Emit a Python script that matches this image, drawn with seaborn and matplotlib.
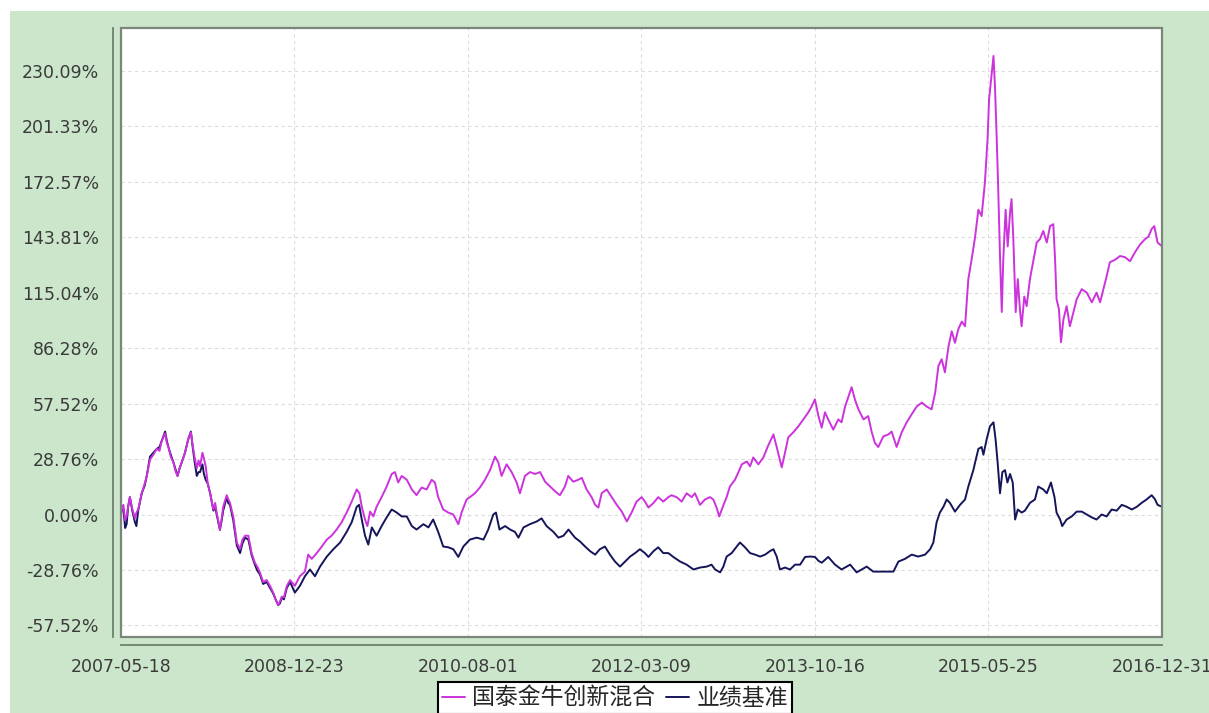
import matplotlib
matplotlib.use('Agg')
import matplotlib.pyplot as plt
from matplotlib.patches import Rectangle
import pandas as pd
import seaborn as sns

START = '2007-05-18'
END = '2016-12-31'

# cumulative return (%) of the fund, days counted from START
fund_days = [0, 2, 8, 14, 19, 24, 30, 38, 47, 52, 58, 70, 80, 87, 98, 109, 121, 130, 137, 149,
             155, 160, 168, 177, 185, 191, 198, 205, 216, 227, 236, 242, 248, 256, 262, 267, 275, 280, 286, 293,
             301, 312, 318, 323, 334, 340, 345, 357, 362, 368, 379, 391, 402, 410, 419, 430, 441, 452, 460, 469,
             480, 492, 503, 514, 522, 531, 537, 543, 550, 560, 571, 587, 604, 621, 632, 644, 661, 678, 695, 711,
             728, 745, 762, 779, 796, 805, 813, 824, 832, 841, 852, 863, 880, 897, 914, 925, 936, 948, 965, 982,
             998, 1015, 1032, 1049, 1060, 1071, 1088, 1105, 1122, 1139, 1150, 1167, 1178, 1195, 1212, 1229, 1246, 1263, 1274, 1285,
             1302, 1319, 1336, 1347, 1364, 1381, 1398, 1415, 1432, 1449, 1466, 1482, 1499, 1510, 1527, 1544, 1556, 1572, 1589, 1601,
             1612, 1623, 1640, 1657, 1674, 1691, 1708, 1724, 1741, 1758, 1769, 1781, 1798, 1814, 1831, 1848, 1859, 1876, 1893, 1910,
             1927, 1938, 1955, 1972, 1989, 2000, 2011, 2020, 2032, 2045, 2056, 2073, 2085, 2096, 2113, 2124, 2135, 2152, 2169, 2186,
             2203, 2214, 2231, 2242, 2253, 2270, 2287, 2304, 2321, 2332, 2343, 2355, 2366, 2377, 2388, 2405, 2422, 2433, 2445, 2456,
             2467, 2478, 2490, 2507, 2523, 2535, 2546, 2557, 2574, 2591, 2602, 2619, 2636, 2653, 2670, 2687, 2704, 2720, 2737, 2749,
             2760, 2771, 2782, 2794, 2805, 2816, 2827, 2839, 2850, 2861, 2872, 2884, 2895, 2906, 2917, 2926, 2931, 2938, 2946, 2951,
             2957, 2962, 2968, 2974, 2979, 2987, 2994, 3002, 3007, 3013, 3021, 3028, 3036, 3041, 3050, 3058, 3069, 3081, 3092, 3103,
             3114, 3126, 3137, 3148, 3154, 3159, 3167, 3174, 3182, 3193, 3204, 3216, 3227, 3244, 3261, 3278, 3294, 3306, 3317, 3328,
             3339, 3356, 3373, 3390, 3407, 3424, 3441, 3458, 3469, 3480, 3489, 3500, 3515]
fund_values = [0, 2.6, 5, -3, -1, 4, 9, 3, -2, 1, 2.6, 11, 16, 20, 28.5, 31, 34, 33, 38, 42,
               37, 35, 30, 27, 22, 20, 24, 27, 32, 39, 42.6, 36, 30, 24, 28, 25, 32, 29, 25, 16,
               11, 2.6, 6, 1, -7.8, -2, 4, 10, 8, 6, -1, -14.5, -18, -13, -11, -11, -20, -25, -27, -30,
               -35, -34, -37, -40.5, -44, -47, -45, -42.6, -43, -37, -34, -37, -32, -29.6, -20.8, -23, -20, -16.6, -13, -11,
               -7.8, -4, 1, 6.7, 13, 11, 4, -2.6, -6, 1.5, -1, 4, 9, 14.5, 21, 22, 16.6, 20, 18, 13,
               10, 14, 13, 18, 16.6, 9, 2.6, 1, 0, -5, 1, 7.8, 9, 11, 14, 18, 23, 30, 27, 20,
               26, 22, 16.6, 11, 20, 22, 21, 22, 17, 14.5, 12, 10, 14.5, 20, 17, 18, 19, 13, 9, 5,
               3.6, 11, 13, 9, 5, 1.5, -3.6, 1, 6.7, 9, 6.7, 3.6, 6, 9, 6.7, 9, 10, 9, 6.7, 11,
               9, 11, 5, 7.8, 9, 7.8, 3.6, -1, 4, 9, 14.5, 18, 22, 26, 27.5, 25, 29.6, 26, 29.6, 36,
               41.5, 35, 24.4, 32, 40, 42.6, 45.7, 49.3, 53, 56, 59.7, 51, 45, 53, 49.3, 44, 49.3, 47.8, 56, 61,
               66, 59.7, 54.5, 49.3, 51, 42.6, 37, 35, 40.5, 41.5, 43, 35, 42.6, 47.8, 52, 56, 58, 56, 54.5, 63,
               77, 80.5, 73.7, 87, 95, 89, 96, 100, 97.6, 122, 132, 144, 158, 154.7, 172, 194.7, 215, 225.8, 237.7, 222,
               194.7, 168.7, 134, 105, 132, 158, 139, 156.8, 163.5, 142.8, 104.9, 122, 105, 97.6, 113, 108, 122, 132, 141, 142.8,
               147, 141, 149.5, 150.5, 132, 111.6, 106.4, 89.3, 101, 108, 97.6, 105, 111.6, 116.8, 115, 110, 115, 110, 116.8, 123.5,
               130.8, 132, 134, 133.4, 131.3, 136, 140, 142.8, 144, 148, 149.5, 141, 139]

# cumulative return (%) of the benchmark
bench_days = [0, 2, 8, 14, 19, 24, 30, 38, 47, 52, 58, 70, 80, 87, 98, 109, 121, 130, 137, 149,
              155, 160, 168, 177, 185, 191, 198, 205, 216, 227, 236, 242, 248, 256, 262, 267, 275, 280, 286, 293,
              301, 312, 318, 323, 334, 340, 345, 357, 362, 368, 379, 391, 402, 410, 419, 430, 441, 452, 460, 469,
              480, 492, 503, 514, 522, 531, 537, 543, 550, 560, 571, 587, 604, 621, 638, 655, 672, 695, 717, 740,
              762, 779, 796, 804, 813, 824, 835, 847, 863, 880, 897, 914, 931, 948, 965, 982, 998, 1021, 1038, 1054,
              1071, 1088, 1105, 1122, 1139, 1156, 1178, 1201, 1224, 1240, 1257, 1266, 1278, 1297, 1314, 1330, 1342, 1359, 1381, 1404,
              1420, 1437, 1460, 1477, 1494, 1511, 1533, 1550, 1567, 1584, 1601, 1617, 1634, 1651, 1668, 1685, 1702, 1719, 1736, 1752,
              1769, 1781, 1798, 1814, 1831, 1848, 1865, 1888, 1910, 1933, 1955, 1978, 1994, 2006, 2023, 2034, 2045, 2062, 2079, 2090,
              2107, 2124, 2141, 2158, 2175, 2191, 2203, 2214, 2225, 2242, 2259, 2276, 2293, 2310, 2327, 2343, 2355, 2366, 2388, 2411,
              2433, 2462, 2484, 2518, 2540, 2574, 2608, 2625, 2647, 2670, 2692, 2715, 2732, 2743, 2754, 2765, 2777, 2788, 2799, 2816,
              2833, 2850, 2861, 2878, 2884, 2895, 2906, 2912, 2923, 2934, 2946, 2953, 2960, 2968, 2976, 2985, 2993, 3002, 3011, 3019,
              3028, 3041, 3052, 3069, 3086, 3097, 3114, 3126, 3140, 3152, 3159, 3171, 3178, 3193, 3210, 3227, 3244, 3261, 3278, 3294,
              3311, 3328, 3345, 3362, 3379, 3396, 3413, 3430, 3446, 3463, 3480, 3491, 3500, 3515]
bench_values = [0, 2.6, 3, -7, -5, 4, 9, 2, -4, -6, 2, 11, 15, 20, 30, 32, 34, 35, 38, 43,
                38, 35, 31, 27, 23, 20, 24, 27, 32, 39, 43, 35, 28, 20, 22, 22, 26, 21, 18, 16,
                11, 2, 4, 0, -8, -3, 2, 9, 6, 5, -3, -16, -20, -15, -12, -13, -21, -26, -29, -31,
                -36, -35, -38, -41, -44, -47, -46, -43, -44, -38, -35, -40.5, -37, -32, -28.5, -32, -27, -21.8, -18, -14.5,
                -9, -4, 4, 5, -2.6, -11, -15.6, -6.7, -11, -6, -1.5, 2.6, 1, -1, -1, -6, -7.8, -5, -6.7, -2.6,
                -9, -16.6, -17, -18, -22, -16.6, -13, -12, -13, -7.8, 0, 1, -7.8, -6, -7.8, -9, -12, -6.7, -5, -3.6,
                -2, -6, -9, -12, -11, -7.8, -12, -14, -16.6, -19, -20.8, -18, -16.6, -20.8, -24.4, -27, -24.4, -21.8, -20, -18,
                -20, -22, -19, -17, -20, -20, -22, -24.4, -26, -28.5, -27.5, -27, -26, -28.5, -30, -27, -21.8, -20, -16.6, -14.5,
                -17, -20, -20.8, -21.8, -20.8, -19, -18, -21.8, -28.5, -27.5, -28.5, -26, -26, -22, -21.8, -22, -24, -25, -22, -26,
                -28.5, -26, -30, -27, -29.6, -29.6, -29.6, -24.4, -23, -20.8, -21.8, -20.8, -18, -14.5, -4, 1, 4, 7.8, 6, 1.5,
                5, 7.8, 14.5, 23, 27, 34, 35, 31, 39, 45.7, 47.8, 39, 27, 11, 22, 23, 16.6, 21, 16.6, -2.6,
                2.6, 1, 2, 6, 7.8, 14.5, 13, 11, 16.6, 9, 1, -2.6, -6, -2.6, -1, 1.5, 1.5, 0, -1.5, -2.6,
                0, -1, 2.6, 2, 5, 4, 2.6, 4, 6, 7.8, 10, 8, 5, 4]

y_ticks = [-57.52, -28.76, 0.00, 28.76, 57.52, 86.28, 115.04, 143.81, 172.57, 201.33, 230.09]
x_tick_labels = ['2007-05-18', '2008-12-23', '2010-08-01', '2012-03-09',
                 '2013-10-16', '2015-05-25', '2016-12-31']
series_names = ['国泰金牛创新混合', '业绩基准']
colors = ['#CC33DD', '#15155A']

start = pd.Timestamp(START)
df = pd.concat([
    pd.DataFrame({'date': start + pd.to_timedelta(fund_days, unit='D'),
                  'value': fund_values, 'series': series_names[0]}),
    pd.DataFrame({'date': start + pd.to_timedelta(bench_days, unit='D'),
                  'value': bench_values, 'series': series_names[1]}),
], ignore_index=True)

sns.set_style('white')
plt.rcParams['font.family'] = ['DejaVu Sans', 'Noto Sans CJK SC']

W, H = 1209, 713
fig = plt.figure(figsize=(W / 100, H / 100), dpi=100)
fig.patch.set_facecolor('white')
# light green panel behind everything
fig.add_artist(Rectangle((10 / W, 0), 1, 1 - 11 / H, transform=fig.transFigure,
                         facecolor='#CBE6CB', edgecolor='none', zorder=-5))

ax = fig.add_axes([121 / W, 1 - 637 / H, 1041 / W, 609 / H])
ax.set_facecolor('white')

sns.lineplot(data=df, x='date', y='value', hue='series', hue_order=series_names,
             palette=colors, estimator=None, errorbar=None, linewidth=1.4, ax=ax)
# fund line drawn over the benchmark
ax.lines[0].set_zorder(3)

handles, labels = ax.get_legend_handles_labels()
ax.get_legend().remove()

ax.set_xlim(start, pd.Timestamp(END))
ax.set_ylim(-63.5, 252.2)
ax.set_xticks(pd.to_datetime(x_tick_labels))
ax.set_xticklabels(x_tick_labels)
ax.set_yticks(y_ticks)
ax.set_yticklabels([f'{v:.2f}%' for v in y_ticks])
ax.set_xlabel('')
ax.set_ylabel('')

ax.grid(True, color='#DCDCDC', linestyle=(0, (3, 3)), linewidth=0.8)
ax.tick_params(axis='both', direction='out', length=4, width=1, color='#6F7F6F',
               labelsize=12.5, labelcolor='#3A3A3A')
ax.tick_params(axis='y', pad=6)
ax.tick_params(axis='x', pad=5)

sns.despine(ax=ax, offset=6)
for side in ['left', 'bottom']:
    ax.spines[side].set_color('#6F7F6F')
    ax.spines[side].set_linewidth(1.3)

# box around the plotting area
ax.add_patch(Rectangle((0, 0), 1, 1, transform=ax.transAxes, fill=False,
                       edgecolor='#7A867A', linewidth=1.6, clip_on=False, zorder=5))

leg = fig.legend(handles, labels, loc='upper center', bbox_to_anchor=(615 / W, 1 - 682 / H),
                 ncol=2, frameon=True, fancybox=False, edgecolor='black',
                 prop={'family': 'Noto Sans CJK SC', 'size': 16.5},
                 handlelength=1.0, handletextpad=0.3, columnspacing=0.5,
                 borderpad=0.2, borderaxespad=0)
leg.get_frame().set_linewidth(1.5)
leg.get_frame().set_facecolor('white')
leg.get_frame().set_alpha(1)

fig.savefig('out.png', dpi=100)
